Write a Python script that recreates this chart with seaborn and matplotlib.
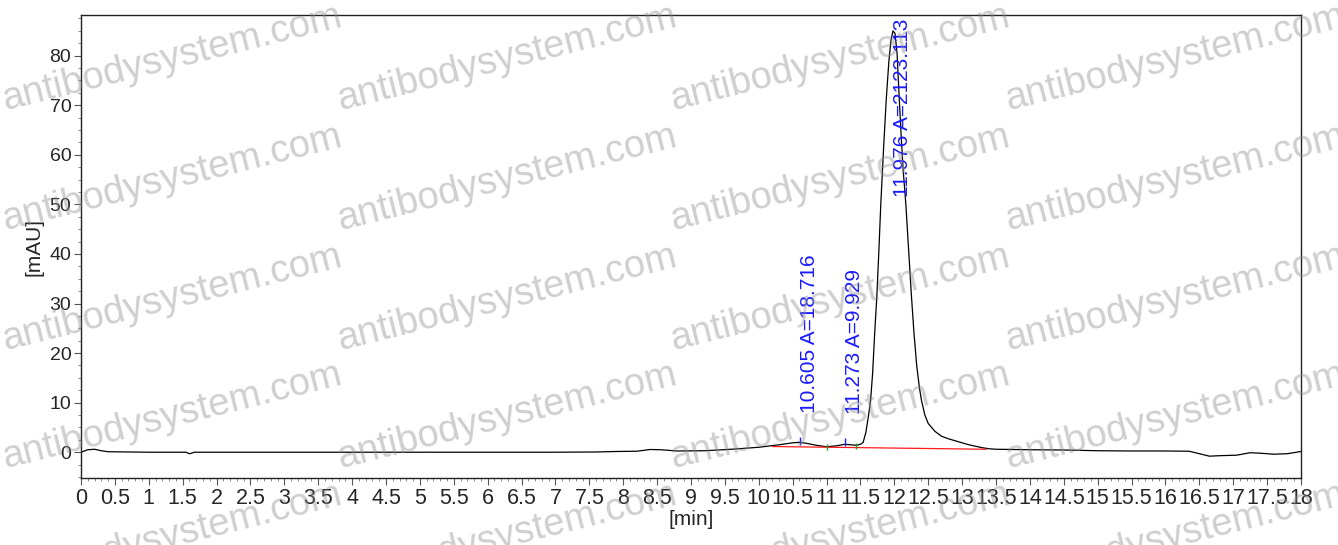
import matplotlib
matplotlib.use("Agg")
import matplotlib.pyplot as plt
from matplotlib.ticker import MultipleLocator
import seaborn as sns
import pandas as pd

# ---- data ----
time_min = [0.0, 0.1, 0.2, 0.3, 0.4, 1.0, 1.55, 1.6, 1.63, 1.67, 2.5, 4.0, 5.5, 7.0,
            7.6, 7.9, 8.2, 8.4, 8.55, 8.8, 9.2, 9.6, 10.0, 10.3, 10.5, 10.6, 10.7,
            10.85, 11.0, 11.15, 11.27, 11.35, 11.44, 11.50, 11.54, 11.58, 11.62,
            11.65, 11.68, 11.71, 11.74, 11.77, 11.80, 11.84, 11.88, 11.92, 11.95,
            11.98, 12.01, 12.04, 12.07, 12.10, 12.13, 12.17, 12.21, 12.25, 12.29,
            12.33, 12.37, 12.40, 12.45, 12.50, 12.60, 12.70, 12.80, 12.90, 13.0,
            13.1, 13.2, 13.3, 13.4, 13.5, 14.0, 14.5, 15.0, 15.5, 16.0, 16.35,
            16.5, 16.65, 16.8, 17.05, 17.25, 17.4, 17.6, 17.8, 18.0]
signal_mau = [0.0, 0.5, 0.6, 0.3, 0.1, 0.0, 0.0, -0.3, -0.2, 0.0, 0.0, 0.0, 0.0, 0.0,
              0.05, 0.15, 0.2, 0.55, 0.5, 0.25, 0.3, 0.6, 1.0, 1.5, 1.9, 2.0, 1.8,
              1.4, 1.1, 1.3, 1.6, 1.5, 1.4, 1.6, 2.0, 4.0, 7.5,
              10.5, 16.0, 24.0, 31.0, 40.0, 50.0, 61.0, 71.0, 79.0, 83.0,
              85.0, 84.5, 80.5, 72.0, 64.0, 57.0, 50.0, 41.0, 32.0, 24.0,
              17.5, 13.0, 10.5, 7.5, 5.8, 4.2, 3.2, 2.7, 2.3, 1.9,
              1.5, 1.2, 0.9, 0.7, 0.6, 0.5, 0.45, 0.3, 0.25, 0.25, 0.2,
              -0.3, -0.8, -0.7, -0.6, -0.1, -0.2, -0.4, -0.3, 0.15]

baseline_t = [10.2, 13.36]
baseline_v = [1.15, 0.6]

peak_times = [10.605, 11.273, 11.976]
peak_labels = ["10.605 A=18.716", "11.273 A=9.929", "11.976 A=2123.113"]
label_y = [8.0, 7.8, 51.5]
apex_marks_t = [10.605, 11.273]
apex_marks_v = [2.35, 2.05]
valley_t = [11.0, 11.44]
valley_v = [1.1, 1.25]

x_ticks = [i * 0.5 for i in range(37)]
x_tick_labels = [("%g" % v) for v in x_ticks]
y_ticks = [0, 10, 20, 30, 40, 50, 60, 70, 80]

# ---- drawing ----
sns.set_style("ticks")
plt.rcParams["font.family"] = ["Liberation Sans", "DejaVu Sans"]

fig = plt.figure(figsize=(13.38, 5.45), dpi=100)
ax = fig.add_axes([81 / 1338, 1 - 478 / 545, (1301 - 81) / 1338, (478 - 15) / 545])

df = pd.DataFrame({"t": time_min, "v": signal_mau})
sns.lineplot(data=df, x="t", y="v", ax=ax, color="black", linewidth=0.9,
             estimator=None, sort=False)
bdf = pd.DataFrame({"t": baseline_t, "v": baseline_v})
sns.lineplot(data=bdf, x="t", y="v", ax=ax, color="#ff1a1a", linewidth=0.9,
             estimator=None, sort=False)
ax.plot(apex_marks_t, apex_marks_v, linestyle="none", marker="|", color="#2020ff",
        markersize=6, markeredgewidth=1)
ax.plot(valley_t, valley_v, linestyle="none", marker="|", color="#20a020",
        markersize=4, markeredgewidth=1)

for t, lab, y in zip(peak_times, peak_labels, label_y):
    ax.text(t, y, lab, rotation=90, ha="left", va="bottom", color="#1a1aff",
            fontsize=15, clip_on=False)

ax.set_xlim(0, 18)
ax.set_ylim(-5.2, 88.2)
ax.set_xticks(x_ticks)
ax.set_xticklabels(x_tick_labels)
ax.set_yticks(y_ticks)
ax.xaxis.set_minor_locator(MultipleLocator(0.1))
ax.yaxis.set_minor_locator(MultipleLocator(2.5))
ax.tick_params(axis="x", which="major", labelsize=15.5, length=5, width=0.8, pad=2,
               direction="out", color="#555555")
ax.tick_params(axis="y", which="major", labelsize=14, length=5, width=0.8, pad=2,
               direction="out", color="#555555")
ax.tick_params(which="minor", length=2.5, width=0.6, color="#777777")
ax.set_xlabel("[min]", fontsize=15, labelpad=1)
ax.set_ylabel("[mAU]", fontsize=15, labelpad=4)
for s in ax.spines.values():
    s.set_visible(True)
    s.set_linewidth(1.0)
    s.set_color("#222222")
ax.grid(False)

# watermark
wm_x = [5, 340, 673, 1008]
wm_y = [110, 230, 350, 468, 588]
for px in wm_x:
    for py in wm_y:
        fig.text(px / 1338, 1 - py / 545, "antibodysystem.com", fontsize=27.5,
                 color="#8c8c8c", alpha=0.42, rotation=14, rotation_mode="anchor",
                 ha="left", va="baseline", zorder=10)

fig.savefig("out.png", dpi=100)
